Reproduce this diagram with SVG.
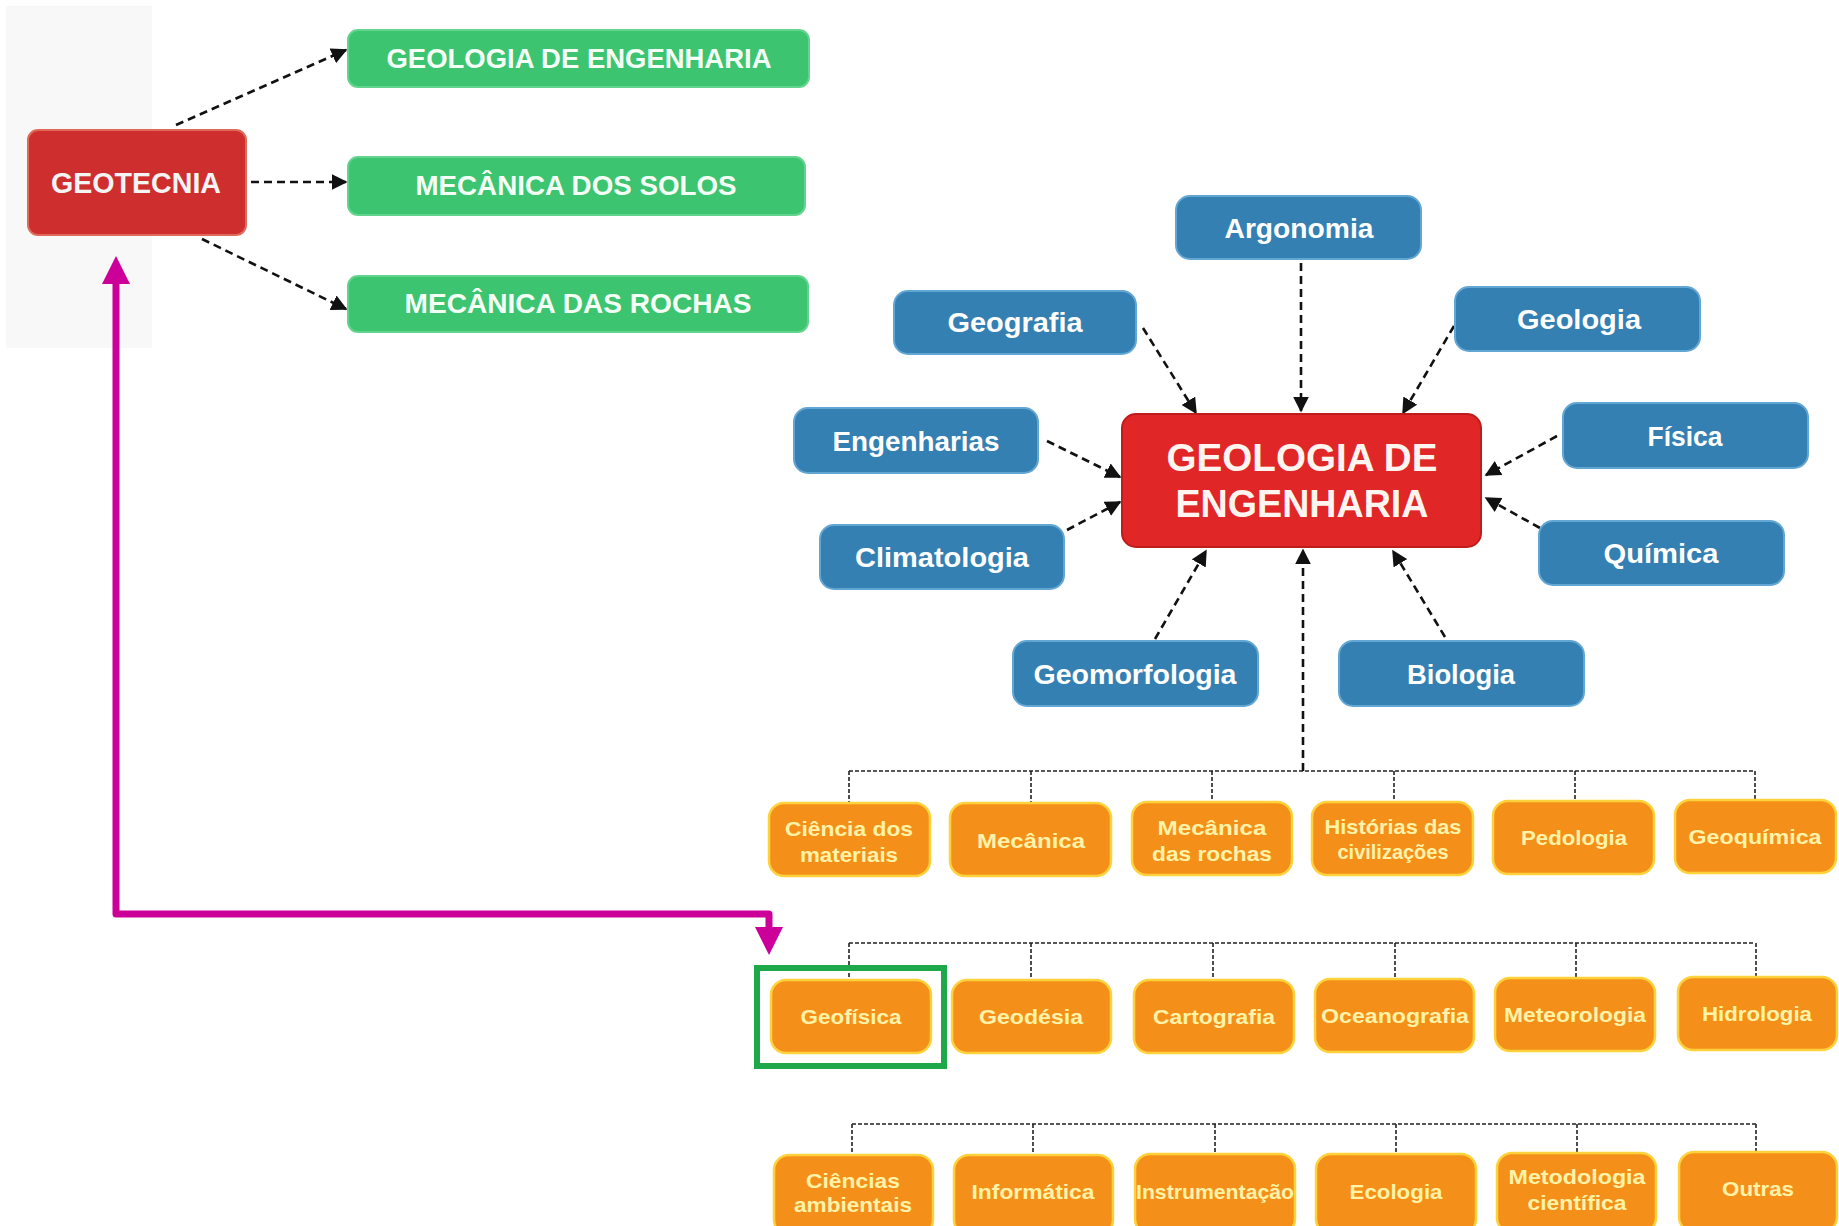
<svg xmlns="http://www.w3.org/2000/svg" width="1839" height="1226" viewBox="0 0 1839 1226">
<style>
.t{font-family:"Liberation Sans",Arial,sans-serif;font-weight:bold;text-anchor:middle;dominant-baseline:central}
.gt{fill:#f4fff6;font-size:27px}
.bt{fill:#ffffff;font-size:28px}
.ot{fill:#fff3a8;font-size:21px}
.green{fill:#3cc470;stroke:#62d48e;stroke-width:2}
.blue{fill:#3580b2;stroke:#62a6d4;stroke-width:2}
.orange{fill:#f4901a;stroke:#ffd23c;stroke-width:2.5}
.red{fill:#cf2e2e;stroke:#e06a5a;stroke-width:2}
.dash{fill:none;stroke:#111;stroke-width:2.6;stroke-dasharray:8 5}
.dot{fill:none;stroke:#222;stroke-width:1.6;stroke-dasharray:4 2}
</style>
<defs>
<marker id="ah" viewBox="0 0 10 10" refX="9" refY="5" markerWidth="16" markerHeight="16" markerUnits="userSpaceOnUse" orient="auto">
<path d="M0,0 L10,5 L0,10 z" fill="#111"/>
</marker>
</defs>
<rect width="1839" height="1226" fill="#ffffff"/>
<rect x="6" y="6" width="146" height="342" fill="#f8f8f9"/>

<g id="connectors">
<path class="dash" d="M176,125 L346,50" marker-end="url(#ah)"/>
<path class="dash" d="M251,182 L346,182" marker-end="url(#ah)"/>
<path class="dash" d="M202,239 L346,309" marker-end="url(#ah)"/>
<path class="dash" d="M1301,263 L1301,411" marker-end="url(#ah)"/>
<path class="dash" d="M1143,328 L1196,413" marker-end="url(#ah)"/>
<path class="dash" d="M1454,326 L1403,413" marker-end="url(#ah)"/>
<path class="dash" d="M1047,441 L1120,477" marker-end="url(#ah)"/>
<path class="dash" d="M1067,530 L1120,502" marker-end="url(#ah)"/>
<path class="dash" d="M1557,436 L1486,475" marker-end="url(#ah)"/>
<path class="dash" d="M1540,528 L1486,498" marker-end="url(#ah)"/>
<path class="dash" d="M1155,639 L1206,551" marker-end="url(#ah)"/>
<path class="dash" d="M1445,637 L1393,551" marker-end="url(#ah)"/>
<path class="dash" d="M1303,771 L1303,550" marker-end="url(#ah)"/>
<path class="dot" d="M849,771 H1755 M849,771 V802 M1031,771 V802 M1212,771 V802 M1394,771 V802 M1575,771 V802 M1755,771 V802"/>
<path class="dot" d="M849,943 H1755 M849,943 V978 M1031,943 V978 M1213,943 V978 M1395,943 V978 M1576,943 V978 M1756,943 V978"/>
<path class="dot" d="M852,1124 H1756 M852,1124 V1153 M1033,1124 V1153 M1215,1124 V1153 M1396,1124 V1153 M1577,1124 V1153 M1756,1124 V1153"/>
<path d="M116,280 V914 H769 V930" fill="none" stroke="#cc0099" stroke-width="7" stroke-linejoin="round"/>
<polygon points="116,256 102,284 130,284" fill="#cc0099"/>
<polygon points="769,955 755,927 783,927" fill="#cc0099"/>
</g>

<g id="n-geotecnia"><rect class="red" x="28" y="130" width="218" height="105" rx="10"/><text class="t" x="136" y="183" fill="#f4f4f4" font-size="29" textLength="170" lengthAdjust="spacingAndGlyphs">GEOTECNIA</text></g>
<g id="n-geo-eng-green"><rect class="green" x="348" y="30" width="461" height="57" rx="10"/><text class="t gt" x="579" y="59" textLength="385" lengthAdjust="spacingAndGlyphs">GEOLOGIA DE ENGENHARIA</text></g>
<g id="n-solos"><rect class="green" x="348" y="157" width="457" height="58" rx="10"/><text class="t gt" x="576" y="186" textLength="321" lengthAdjust="spacingAndGlyphs">MECÂNICA DOS SOLOS</text></g>
<g id="n-rochas"><rect class="green" x="348" y="276" width="460" height="56" rx="10"/><text class="t gt" x="578" y="304" textLength="347" lengthAdjust="spacingAndGlyphs">MECÂNICA DAS ROCHAS</text></g>

<g id="n-central"><rect x="1122" y="414" width="359" height="133" rx="14" fill="#e02626" stroke="#c01c1c" stroke-width="2"/>
<text class="t" x="1302" y="458" fill="#fff5f0" font-size="38" textLength="271" lengthAdjust="spacingAndGlyphs">GEOLOGIA DE</text>
<text class="t" x="1302" y="504" fill="#fff5f0" font-size="38" textLength="253" lengthAdjust="spacingAndGlyphs">ENGENHARIA</text></g>

<g id="n-argonomia"><rect class="blue" x="1176" y="196" width="245" height="63" rx="14"/><text class="t bt" x="1299" y="228" textLength="149" lengthAdjust="spacingAndGlyphs">Argonomia</text></g>
<g id="n-geografia"><rect class="blue" x="894" y="291" width="242" height="63" rx="14"/><text class="t bt" x="1015" y="322" textLength="135" lengthAdjust="spacingAndGlyphs">Geografia</text></g>
<g id="n-geologia"><rect class="blue" x="1455" y="287" width="245" height="64" rx="14"/><text class="t bt" x="1579" y="319" textLength="124" lengthAdjust="spacingAndGlyphs">Geologia</text></g>
<g id="n-engenharias"><rect class="blue" x="794" y="408" width="244" height="65" rx="14"/><text class="t bt" x="916" y="441" textLength="167" lengthAdjust="spacingAndGlyphs">Engenharias</text></g>
<g id="n-fisica"><rect class="blue" x="1563" y="403" width="245" height="65" rx="14"/><text class="t bt" x="1685" y="436" textLength="75" lengthAdjust="spacingAndGlyphs">Física</text></g>
<g id="n-climatologia"><rect class="blue" x="820" y="525" width="244" height="64" rx="14"/><text class="t bt" x="942" y="557" textLength="174" lengthAdjust="spacingAndGlyphs">Climatologia</text></g>
<g id="n-quimica"><rect class="blue" x="1539" y="521" width="245" height="64" rx="14"/><text class="t bt" x="1661" y="553" textLength="115" lengthAdjust="spacingAndGlyphs">Química</text></g>
<g id="n-geomorfologia"><rect class="blue" x="1013" y="641" width="245" height="65" rx="14"/><text class="t bt" x="1135" y="674" textLength="203" lengthAdjust="spacingAndGlyphs">Geomorfologia</text></g>
<g id="n-biologia"><rect class="blue" x="1339" y="641" width="245" height="65" rx="14"/><text class="t bt" x="1461" y="674" textLength="108" lengthAdjust="spacingAndGlyphs">Biologia</text></g>

<g id="n-ciencia-materiais"><rect class="orange" x="769" y="803" width="161" height="73" rx="15"/><text class="t ot" x="849" y="828" textLength="128" lengthAdjust="spacingAndGlyphs">Ciência dos</text><text class="t ot" x="849" y="854" textLength="98" lengthAdjust="spacingAndGlyphs">materiais</text></g>
<g id="n-mecanica"><rect class="orange" x="950" y="803" width="161" height="73" rx="15"/><text class="t ot" x="1031" y="840" textLength="108" lengthAdjust="spacingAndGlyphs">Mecânica</text></g>
<g id="n-mec-rochas"><rect class="orange" x="1132" y="802" width="160" height="73" rx="15"/><text class="t ot" x="1212" y="827" textLength="109" lengthAdjust="spacingAndGlyphs">Mecânica</text><text class="t ot" x="1212" y="853" textLength="120" lengthAdjust="spacingAndGlyphs">das rochas</text></g>
<g id="n-historias"><rect class="orange" x="1312" y="802" width="161" height="73" rx="15"/><text class="t ot" x="1393" y="826" textLength="137" lengthAdjust="spacingAndGlyphs">Histórias das</text><text class="t ot" x="1393" y="851" textLength="111" lengthAdjust="spacingAndGlyphs">civilizações</text></g>
<g id="n-pedologia"><rect class="orange" x="1493" y="801" width="161" height="73" rx="15"/><text class="t ot" x="1574" y="837" textLength="106" lengthAdjust="spacingAndGlyphs">Pedologia</text></g>
<g id="n-geoquimica"><rect class="orange" x="1675" y="800" width="161" height="73" rx="15"/><text class="t ot" x="1755" y="836" textLength="133" lengthAdjust="spacingAndGlyphs">Geoquímica</text></g>

<g id="n-geofisica"><rect class="orange" x="771" y="980" width="160" height="73" rx="15"/><text class="t ot" x="851" y="1016" textLength="101" lengthAdjust="spacingAndGlyphs">Geofísica</text><rect x="757" y="968" width="187" height="98" fill="none" stroke="#1fa84a" stroke-width="6"/></g>
<g id="n-geodesia"><rect class="orange" x="952" y="980" width="159" height="73" rx="15"/><text class="t ot" x="1031" y="1016" textLength="104" lengthAdjust="spacingAndGlyphs">Geodésia</text></g>
<g id="n-cartografia"><rect class="orange" x="1134" y="980" width="160" height="73" rx="15"/><text class="t ot" x="1214" y="1016" textLength="122" lengthAdjust="spacingAndGlyphs">Cartografia</text></g>
<g id="n-oceanografia"><rect class="orange" x="1315" y="979" width="159" height="73" rx="15"/><text class="t ot" x="1395" y="1015" textLength="148" lengthAdjust="spacingAndGlyphs">Oceanografia</text></g>
<g id="n-meteorologia"><rect class="orange" x="1495" y="978" width="160" height="73" rx="15"/><text class="t ot" x="1575" y="1014" textLength="142" lengthAdjust="spacingAndGlyphs">Meteorologia</text></g>
<g id="n-hidrologia"><rect class="orange" x="1678" y="977" width="159" height="73" rx="15"/><text class="t ot" x="1757" y="1013" textLength="110" lengthAdjust="spacingAndGlyphs">Hidrologia</text></g>

<g id="n-ciencias-amb"><rect class="orange" x="774" y="1155" width="159" height="80" rx="15"/><text class="t ot" x="853" y="1180" textLength="94" lengthAdjust="spacingAndGlyphs">Ciências</text><text class="t ot" x="853" y="1204" textLength="118" lengthAdjust="spacingAndGlyphs">ambientais</text></g>
<g id="n-informatica"><rect class="orange" x="954" y="1155" width="159" height="80" rx="15"/><text class="t ot" x="1033" y="1191" textLength="123" lengthAdjust="spacingAndGlyphs">Informática</text></g>
<g id="n-instrumentacao"><rect class="orange" x="1135" y="1154" width="160" height="80" rx="15"/><text class="t ot" x="1215" y="1191" textLength="158" lengthAdjust="spacingAndGlyphs">Instrumentação</text></g>
<g id="n-ecologia"><rect class="orange" x="1316" y="1154" width="160" height="80" rx="15"/><text class="t ot" x="1396" y="1191" textLength="93" lengthAdjust="spacingAndGlyphs">Ecologia</text></g>
<g id="n-metodologia"><rect class="orange" x="1497" y="1153" width="159" height="80" rx="15"/><text class="t ot" x="1577" y="1176" textLength="137" lengthAdjust="spacingAndGlyphs">Metodologia</text><text class="t ot" x="1577" y="1202" textLength="99" lengthAdjust="spacingAndGlyphs">científica</text></g>
<g id="n-outras"><rect class="orange" x="1679" y="1152" width="158" height="80" rx="15"/><text class="t ot" x="1758" y="1188" textLength="72" lengthAdjust="spacingAndGlyphs">Outras</text></g>
</svg>
